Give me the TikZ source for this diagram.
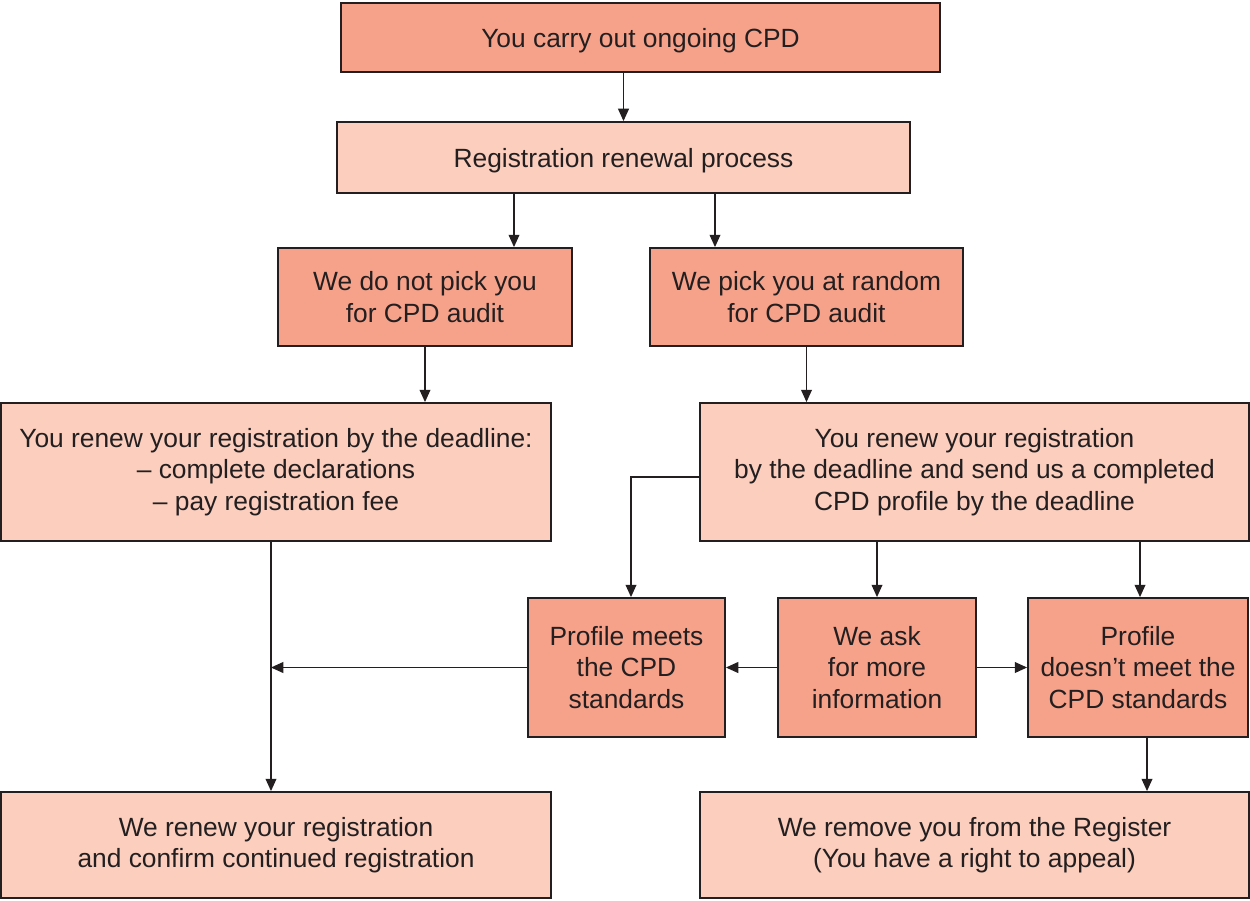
\documentclass[tikz,border=0pt]{standalone}
\usepackage{fontspec}
\setmainfont{Liberation Sans}
\usetikzlibrary{arrows.meta,calc}
\definecolor{darkbox}{RGB}{246,162,138}
\definecolor{lightbox}{RGB}{251,206,190}
\definecolor{ink}{RGB}{35,31,32}
\tikzset{
box/.style={draw=ink, line width=1.1pt, text=ink, align=center, inner sep=0pt,
  font=\fontsize{15}{17.8}\selectfont},
darkstep/.style={box, fill=darkbox},
lightstep/.style={box, fill=lightbox},
arr/.style={draw=ink, line width=0.65pt, -{Triangle[length=7pt,width=6.2pt]}}
}

\begin{document}
\begin{tikzpicture}[x=0.02cm, y=-0.02cm]
  \useasboundingbox (0,0) rectangle (1250,900);
\node[darkstep, minimum width=11.98cm, minimum height=1.38cm, text depth=0pt] (top) at (640.5,37.5) {You carry out ongoing CPD};
\node[lightstep, minimum width=11.46cm, minimum height=1.42cm, text depth=0pt] (reg) at (623.5,157.5) {Registration renewal process};
\node[darkstep, minimum width=5.88cm, minimum height=1.96cm] (notpick) at (425,297) {We do not pick you\\for CPD audit};
\node[darkstep, minimum width=6.26cm, minimum height=1.96cm] (pick) at (806.5,297) {We pick you at random\\for CPD audit};
\node[lightstep, minimum width=11cm, minimum height=2.76cm] (renewL) at (276,472) {You renew your registration by the deadline:\\\textendash{} complete declarations\\\textendash{} pay registration fee};
\node[lightstep, minimum width=10.98cm, minimum height=2.76cm] (renewR) at (974.5,472) {You renew your registration\\by the deadline and send us a completed\\CPD profile by the deadline};
\node[darkstep, minimum width=3.94cm, minimum height=2.78cm] (meets) at (626.5,667.5) {Profile meets\\the CPD\\standards};
\node[darkstep, minimum width=3.96cm, minimum height=2.78cm] (ask) at (877,667.5) {We ask\\for more\\information};
\node[darkstep, minimum width=4.4cm, minimum height=2.78cm] (notmeet) at (1138,667.5) {Profile\\doesn't meet the\\CPD standards};
\node[lightstep, minimum width=11cm, minimum height=2.12cm] (renewed) at (276,845) {We renew your registration\\and confirm continued registration};
\node[lightstep, minimum width=10.98cm, minimum height=2.12cm] (removed) at (974.5,845) {We remove you from the Register\\(You have a right to appeal)};

\coordinate (regL) at ($(reg.south)+(-109.5,0)$);
\coordinate (regR) at ($(reg.south)+(91.5,0)$);
\coordinate (sideR) at ($(renewR.west)+(0,5)$);
\coordinate (meetsIn) at ($(meets.north)+(4.5,0)$);
\coordinate (trunk) at ($(renewL.south)+(-5,0)$);
\coordinate (drop) at ($(notmeet.south)+(9,0)$);

\draw[arr] (reg.north |- top.south) -- (reg.north);
\draw[arr] (regL) -- (regL |- notpick.north);
\draw[arr] (regR) -- (regR |- pick.north);
\draw[arr] (notpick.south) -- (notpick.south |- renewL.north);
\draw[arr] (pick.south) -- (pick.south |- renewR.north);
\draw[arr] (sideR) -| (meetsIn);
\draw[arr] (ask.north |- renewR.south) -- (ask.north);
\draw[arr] ($(notmeet.north |- renewR.south)+(2,0)$) -- ($(notmeet.north)+(2,0)$);
\draw[arr] (ask.west) -- (meets.east);
\draw[arr] (ask.east) -- (notmeet.west);
\draw[arr] (trunk) -- (trunk |- renewed.north);
\draw[arr] (meets.west) -- (meets.west -| trunk);
\draw[arr] (drop) -- (drop |- removed.north);
\end{tikzpicture}
\end{document}
